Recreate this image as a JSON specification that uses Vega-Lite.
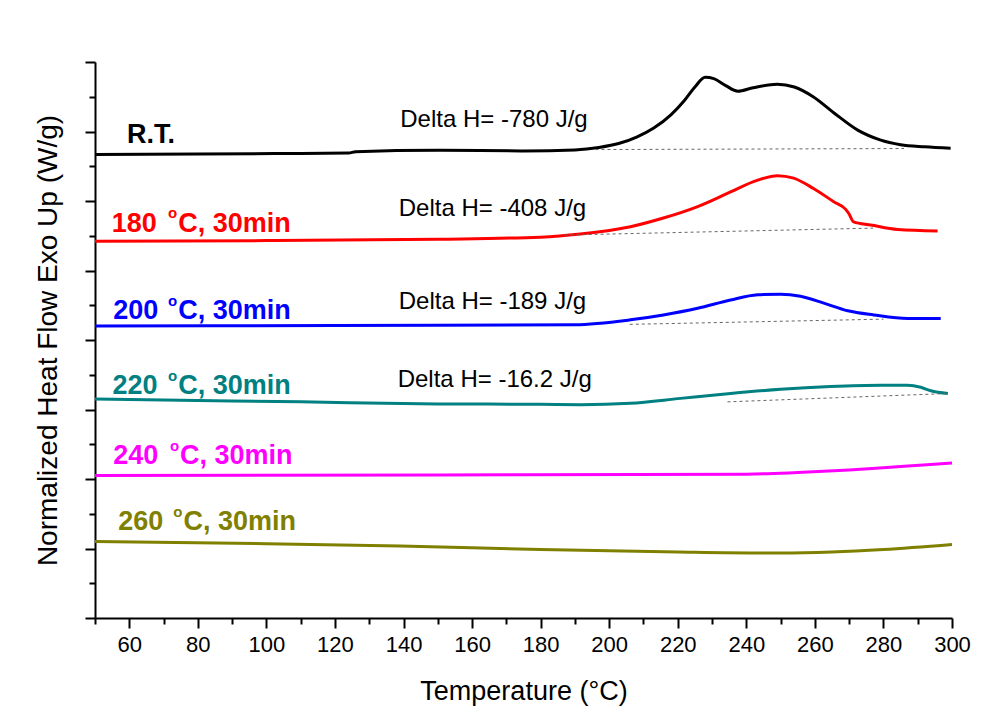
{
  "$schema": "https://vega.github.io/schema/vega-lite/v6.json",
  "autosize": {"type": "none"},
  "width": 857,
  "height": 556,
  "padding": {"left": 95, "top": 62, "right": 48, "bottom": 95},
  "background": "white",
  "config": {
    "view": {"stroke": null},
    "axis": {
      "domainColor": "black", "domainWidth": 2, "tickColor": "black", "tickWidth": 2,
      "grid": false, "labelFont": "Liberation Sans", "titleFont": "Liberation Sans",
      "labelColor": "black", "titleColor": "black", "titleFontWeight": "normal"
    }
  },
  "datasets": {
    "curves": [
      {"T": 50, "hf": 6.67, "s": "RT"}, {"T": 80, "hf": 6.675, "s": "RT"}, {"T": 110, "hf": 6.685, "s": "RT"},
      {"T": 124, "hf": 6.69, "s": "RT"}, {"T": 126, "hf": 6.71, "s": "RT"}, {"T": 150, "hf": 6.73, "s": "RT"},
      {"T": 175, "hf": 6.72, "s": "RT"}, {"T": 190, "hf": 6.735, "s": "RT"}, {"T": 197, "hf": 6.77, "s": "RT"},
      {"T": 203, "hf": 6.83, "s": "RT"}, {"T": 208, "hf": 6.92, "s": "RT"}, {"T": 213, "hf": 7.05, "s": "RT"},
      {"T": 218, "hf": 7.24, "s": "RT"}, {"T": 222, "hf": 7.45, "s": "RT"}, {"T": 225, "hf": 7.64, "s": "RT"},
      {"T": 228, "hf": 7.78, "s": "RT"}, {"T": 230.5, "hf": 7.76, "s": "RT"}, {"T": 234, "hf": 7.66, "s": "RT"},
      {"T": 237.5, "hf": 7.58, "s": "RT"}, {"T": 242, "hf": 7.63, "s": "RT"}, {"T": 249, "hf": 7.68, "s": "RT"},
      {"T": 254, "hf": 7.64, "s": "RT"}, {"T": 259.5, "hf": 7.5, "s": "RT"}, {"T": 265.5, "hf": 7.27, "s": "RT"},
      {"T": 272.5, "hf": 7.02, "s": "RT"}, {"T": 279, "hf": 6.88, "s": "RT"}, {"T": 285, "hf": 6.81, "s": "RT"},
      {"T": 292, "hf": 6.78, "s": "RT"}, {"T": 299.6, "hf": 6.76, "s": "RT"},

      {"T": 50, "hf": 5.42, "s": "180"}, {"T": 100, "hf": 5.43, "s": "180"}, {"T": 150, "hf": 5.45, "s": "180"},
      {"T": 180, "hf": 5.48, "s": "180"}, {"T": 191.6, "hf": 5.525, "s": "180"}, {"T": 206.2, "hf": 5.63, "s": "180"},
      {"T": 215.8, "hf": 5.755, "s": "180"}, {"T": 225.8, "hf": 5.92, "s": "180"}, {"T": 235.4, "hf": 6.13, "s": "180"},
      {"T": 243.3, "hf": 6.3, "s": "180"}, {"T": 249.1, "hf": 6.365, "s": "180"}, {"T": 253.8, "hf": 6.33, "s": "180"},
      {"T": 259.6, "hf": 6.18, "s": "180"}, {"T": 265.5, "hf": 5.99, "s": "180"}, {"T": 269, "hf": 5.88, "s": "180"},
      {"T": 269.9, "hf": 5.82, "s": "180"}, {"T": 271.3, "hf": 5.7, "s": "180"}, {"T": 276.3, "hf": 5.655, "s": "180"},
      {"T": 284.2, "hf": 5.59, "s": "180"}, {"T": 295.8, "hf": 5.57, "s": "180"},

      {"T": 50, "hf": 4.2, "s": "200"}, {"T": 120, "hf": 4.21, "s": "200"}, {"T": 190, "hf": 4.22, "s": "200"},
      {"T": 206.2, "hf": 4.29, "s": "200"}, {"T": 215.8, "hf": 4.36, "s": "200"}, {"T": 225.8, "hf": 4.456, "s": "200"},
      {"T": 235.4, "hf": 4.576, "s": "200"}, {"T": 243.3, "hf": 4.65, "s": "200"}, {"T": 250, "hf": 4.66, "s": "200"},
      {"T": 255.8, "hf": 4.63, "s": "200"}, {"T": 262.6, "hf": 4.53, "s": "200"}, {"T": 269.6, "hf": 4.42, "s": "200"},
      {"T": 277.2, "hf": 4.36, "s": "200"}, {"T": 287.1, "hf": 4.31, "s": "200"}, {"T": 296.7, "hf": 4.31, "s": "200"},

      {"T": 50, "hf": 3.15, "s": "220"}, {"T": 80, "hf": 3.13, "s": "220"}, {"T": 110, "hf": 3.11, "s": "220"},
      {"T": 150, "hf": 3.08, "s": "220"}, {"T": 180, "hf": 3.075, "s": "220"}, {"T": 191.6, "hf": 3.07, "s": "220"},
      {"T": 206.2, "hf": 3.09, "s": "220"}, {"T": 220.8, "hf": 3.16, "s": "220"}, {"T": 235.4, "hf": 3.23, "s": "220"},
      {"T": 250, "hf": 3.29, "s": "220"}, {"T": 264.5, "hf": 3.33, "s": "220"}, {"T": 279.2, "hf": 3.35, "s": "220"},
      {"T": 287, "hf": 3.35, "s": "220"}, {"T": 290.9, "hf": 3.32, "s": "220"}, {"T": 293.8, "hf": 3.27, "s": "220"},
      {"T": 298.8, "hf": 3.23, "s": "220"},

      {"T": 50, "hf": 2.05, "s": "240"}, {"T": 150, "hf": 2.058, "s": "240"}, {"T": 240, "hf": 2.07, "s": "240"},
      {"T": 255, "hf": 2.094, "s": "240"}, {"T": 270, "hf": 2.13, "s": "240"}, {"T": 285, "hf": 2.18, "s": "240"},
      {"T": 300, "hf": 2.23, "s": "240"},

      {"T": 50, "hf": 1.1, "s": "260"}, {"T": 100, "hf": 1.07, "s": "260"}, {"T": 139, "hf": 1.036, "s": "260"},
      {"T": 180, "hf": 0.986, "s": "260"}, {"T": 220, "hf": 0.95, "s": "260"}, {"T": 250, "hf": 0.935, "s": "260"},
      {"T": 265, "hf": 0.95, "s": "260"}, {"T": 280, "hf": 0.986, "s": "260"}, {"T": 300, "hf": 1.058, "s": "260"}
    ],
    "baselines": [
      {"T": 196, "hf": 6.74, "s": "RT"}, {"T": 286, "hf": 6.755, "s": "RT"},
      {"T": 187, "hf": 5.51, "s": "180"}, {"T": 277, "hf": 5.61, "s": "180"},
      {"T": 206, "hf": 4.225, "s": "200"}, {"T": 280, "hf": 4.3, "s": "200"},
      {"T": 234.5, "hf": 3.11, "s": "220"}, {"T": 298.8, "hf": 3.23, "s": "220"}
    ],
    "deltas": [
      {"txt": "Delta H= -780 J/g", "T": 139.05, "hf": 7.06},
      {"txt": "Delta H= -408 J/g", "T": 138.6, "hf": 5.79},
      {"txt": "Delta H= -189 J/g", "T": 138.6, "hf": 4.44},
      {"txt": "Delta H= -16.2 J/g", "T": 138.3, "hf": 3.32}
    ],
    "labels": [
      {"txt": "R.T.", "T": 59.3, "hf": 6.84, "s": "RT"},
      {"txt": "180", "T": 54.9, "hf": 5.56, "s": "180"},
      {"txt": "C, 30min", "T": 74.3, "hf": 5.56, "s": "180"},
      {"txt": "200", "T": 55.3, "hf": 4.3, "s": "200"},
      {"txt": "C, 30min", "T": 74.3, "hf": 4.3, "s": "200"},
      {"txt": "220", "T": 55.1, "hf": 3.22, "s": "220"},
      {"txt": "C, 30min", "T": 74.3, "hf": 3.22, "s": "220"},
      {"txt": "240", "T": 55.3, "hf": 2.21, "s": "240"},
      {"txt": "C, 30min", "T": 74.8, "hf": 2.21, "s": "240"},
      {"txt": "260", "T": 56.8, "hf": 1.266, "s": "260"},
      {"txt": "C, 30min", "T": 75.8, "hf": 1.266, "s": "260"}
    ],
    "sups": [
      {"txt": "o", "T": 71.3, "hf": 5.75, "s": "180"},
      {"txt": "o", "T": 71.3, "hf": 4.49, "s": "200"},
      {"txt": "o", "T": 71.3, "hf": 3.41, "s": "220"},
      {"txt": "o", "T": 71.9, "hf": 2.4, "s": "240"},
      {"txt": "o", "T": 72.8, "hf": 1.456, "s": "260"}
    ]
  },
  "resolve": {"axis": {"x": "independent", "y": "independent"}},
  "layer": [
    {
      "data": {"name": "curves"},
      "mark": {"type": "line", "strokeWidth": 3, "interpolate": "monotone"},
      "encoding": {
        "x": {"field": "T", "type": "quantitative",
          "scale": {"domain": [50, 300], "nice": false, "zero": false},
          "axis": {"orient": "bottom", "values": [60, 80, 100, 120, 140, 160, 180, 200, 220, 240, 260, 280, 300],
            "tickSize": 10, "labelFontSize": 22, "labelPadding": 6, "labelFlush": false,
            "title": "Temperature (°C)", "titleFontSize": 27, "titlePadding": 23}},
        "y": {"field": "hf", "type": "quantitative",
          "scale": {"domain": [0, 8], "nice": false, "zero": false},
          "axis": {"orient": "left", "values": [0, 1, 2, 3, 4, 5, 6, 7, 8], "tickSize": 10, "labels": false,
            "title": "Normalized Heat Flow Exo Up (W/g)", "titleFontSize": 28, "titlePadding": 22}},
        "color": {"field": "s", "type": "nominal",
          "scale": {"domain": ["RT", "180", "200", "220", "240", "260"],
            "range": ["#000000", "#ff0000", "#0000ff", "#008080", "#ff00ff", "#808000"]},
          "legend": null},
        "detail": {"field": "s"}
      }
    },
    {
      "data": {"name": "baselines"},
      "mark": {"type": "line", "strokeWidth": 1, "strokeDash": [3, 3], "color": "#666666"},
      "encoding": {
        "x": {"field": "T", "type": "quantitative",
          "axis": {"orient": "bottom", "values": [50, 70, 90, 110, 130, 150, 170, 190, 210, 230, 250, 270, 290],
            "tickSize": 6, "labels": false, "domain": false, "title": null}},
        "y": {"field": "hf", "type": "quantitative",
          "axis": {"orient": "left", "values": [0.5, 1.5, 2.5, 3.5, 4.5, 5.5, 6.5, 7.5], "tickSize": 6,
            "labels": false, "domain": false, "title": null}},
        "detail": {"field": "s"}
      }
    },
    {
      "data": {"name": "deltas"},
      "mark": {"type": "text", "align": "left", "baseline": "alphabetic", "font": "Liberation Sans", "fontSize": 24, "color": "black"},
      "encoding": {
        "x": {"field": "T", "type": "quantitative", "axis": null},
        "y": {"field": "hf", "type": "quantitative", "axis": null},
        "text": {"field": "txt"}
      }
    },
    {
      "data": {"name": "labels"},
      "mark": {"type": "text", "align": "left", "baseline": "alphabetic", "font": "Liberation Sans", "fontSize": 27, "fontWeight": "bold"},
      "encoding": {
        "x": {"field": "T", "type": "quantitative", "axis": null},
        "y": {"field": "hf", "type": "quantitative", "axis": null},
        "text": {"field": "txt"},
        "color": {"field": "s", "type": "nominal", "legend": null}
      }
    },
    {
      "data": {"name": "sups"},
      "mark": {"type": "text", "align": "left", "baseline": "alphabetic", "font": "Liberation Sans", "fontSize": 15, "fontWeight": "bold"},
      "encoding": {
        "x": {"field": "T", "type": "quantitative", "axis": null},
        "y": {"field": "hf", "type": "quantitative", "axis": null},
        "text": {"field": "txt"},
        "color": {"field": "s", "type": "nominal", "legend": null}
      }
    }
  ]
}
